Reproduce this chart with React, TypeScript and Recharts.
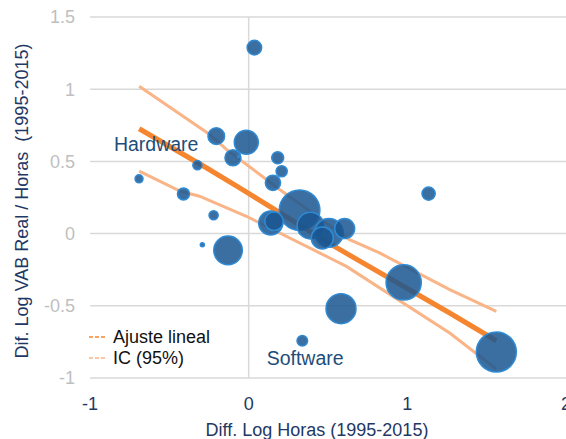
import React from 'react';
import {
  ComposedChart,
  Scatter,
  XAxis,
  YAxis,
  ZAxis,
  CartesianGrid,
  ReferenceLine,
  ReferenceDot,
  Customized,
} from 'recharts';

// Bubbles: x = diff log hours, y = diff log real GVA / hours, z = relative weight (bubble area)
const bubbleX = [0.036, -0.204, -0.015, -0.099, -0.065, -0.323, -0.691, -0.411, -0.221, -0.292, -0.13, 0.183, 0.208, 0.153, 0.321, 0.139, 0.16, 0.389, 0.506, 0.464, 0.605, 1.134, 0.977, 0.582, 0.338, 1.561];
const bubbleY = [1.288, 0.675, 0.633, 0.525, 0.532, 0.474, 0.379, 0.275, 0.127, -0.078, -0.116, 0.525, 0.432, 0.352, 0.162, 0.074, 0.085, 0.055, 0.005, -0.03, 0.035, 0.277, -0.338, -0.52, -0.742, -0.82];
const bubbleZ = [53, 69, 144, 64, 1, 21, 16, 36, 21, 4, 204, 36, 31, 58, 412, 144, 86, 177, 204, 121, 100, 44, 310, 225, 28, 400];

// Linear fit
const fitX = [-0.69, -0.267, -0.057, 0.511, 1.267, 1.561];
const fitY = [0.726, 0.456, 0.317, -0.07, -0.55, -0.742];

// Confidence interval (95%)
const upperX = [-0.69, -0.25, -0.14, 0.195, 0.636, 0.825, 1.267, 1.561];
const upperY = [1.02, 0.69, 0.583, 0.305, -0.042, -0.134, -0.388, -0.539];
const lowerX = [-0.69, -0.43, -0.31, -0.014, 0.511, 0.616, 1.267, 1.561];
const lowerY = [0.432, 0.293, 0.259, 0.12, -0.169, -0.227, -0.689, -0.938];

const xTicks = [-1, 0, 1, 2];
const yTicks = [-1, -0.5, 0, 0.5, 1, 1.5];

const legendLabels = ['Ajuste lineal', 'IC (95%)'];
const annotations = [
  { label: 'Hardware', x: -0.583, y: 0.623 },
  { label: 'Software', x: 0.356, y: -0.862 },
];

const bubbles = bubbleX.map((x, i) => ({ x, y: bubbleY[i], z: bubbleZ[i] }));
const fitData = fitX.map((x, i) => ({ x, y: fitY[i] }));
const upperData = upperX.map((x, i) => ({ x, y: upperY[i] }));
const lowerData = lowerX.map((x, i) => ({ x, y: lowerY[i] }));

const FONT = '"Liberation Sans", Arial, sans-serif';
const FIT_COLOR = '#f5852e';
const CI_COLOR = '#f9b487';
const NAVY = '#1f3864';
const LABEL_BLUE = '#1e4d7b';

const NoShape = () => <g />;

const LegendBox = () => {
  const colors = [FIT_COLOR, CI_COLOR];
  const ys = [337, 358];
  return (
    <g>
      {legendLabels.map((l, i) => (
        <g key={l}>
          <line x1={89} x2={107} y1={ys[i]} y2={ys[i]} stroke={colors[i]} strokeWidth={1.5} strokeDasharray="4 2" />
          <text x={113} y={ys[i]} dominantBaseline="central" fontSize={18} fill="#111" fontFamily={FONT}>
            {l}
          </text>
        </g>
      ))}
    </g>
  );
};

const AxisTitles = () => (
  <g fontFamily={FONT} fontSize={18} fill={NAVY}>
    <text x={317} y={436} textAnchor="middle" fill={NAVY}>
      Diff. Log Horas (1995-2015)
    </text>
    <text
      transform="translate(28,201) rotate(-90)"
      textAnchor="middle"
      fill={NAVY}
      style={{ whiteSpace: 'pre' }}
    >
      {'Dif. Log VAB Real / Horas  (1995-2015)'}
    </text>
  </g>
);

export default function App() {
  return (
    <div style={{ position: 'absolute', left: 0, top: 0, width: 566, height: 439, overflow: 'hidden', background: '#fff', fontFamily: FONT }}>
      <ComposedChart width={566} height={439} margin={{ top: 17, right: 0, bottom: 0, left: 0 }}>
        <CartesianGrid vertical={false} stroke="#d9d9d9" strokeWidth={1.5} />
        <XAxis
          type="number"
          dataKey="x"
          domain={[-1, 2]}
          ticks={xTicks}
          interval={0}
          allowDataOverflow
          height={61}
          axisLine={false}
          tickLine={false}
          tickSize={0}
          tickMargin={19}
          tick={{ fill: NAVY, fontSize: 18, fontFamily: FONT }}
        />
        <YAxis
          type="number"
          dataKey="y"
          domain={[-1, 1.5]}
          ticks={yTicks}
          interval={0}
          allowDataOverflow
          width={90}
          axisLine={false}
          tickLine={false}
          tickSize={0}
          tickMargin={15}
          tick={{ fill: '#bfbfbf', fontSize: 18, fontFamily: FONT }}
        />
        <ZAxis type="number" dataKey="z" domain={[0, 500]} range={[0, 500 * Math.PI]} />
        <ReferenceLine x={0} stroke="#d9d9d9" strokeWidth={1.5} />
        <Scatter data={lowerData} shape={NoShape} line={{ stroke: CI_COLOR, strokeWidth: 3 }} isAnimationActive={false} />
        <Scatter data={upperData} shape={NoShape} line={{ stroke: CI_COLOR, strokeWidth: 3 }} isAnimationActive={false} />
        <Scatter data={fitData} shape={NoShape} line={{ stroke: FIT_COLOR, strokeWidth: 5 }} isAnimationActive={false} />
        {annotations.map((a) => (
          <ReferenceDot
            key={a.label}
            x={a.x}
            y={a.y}
            r={0}
            stroke="none"
            fill="none"
            label={{ value: a.label, position: 'center', fill: LABEL_BLUE, fontSize: 19.5, fontFamily: FONT }}
          />
        ))}
        <Scatter
          data={bubbles}
          fill="#1a5690"
          fillOpacity={0.85}
          stroke="#2f8ad4"
          strokeWidth={1.5}
          isAnimationActive={false}
        />
        <Customized component={LegendBox} />
        <Customized component={AxisTitles} />
      </ComposedChart>
    </div>
  );
}
